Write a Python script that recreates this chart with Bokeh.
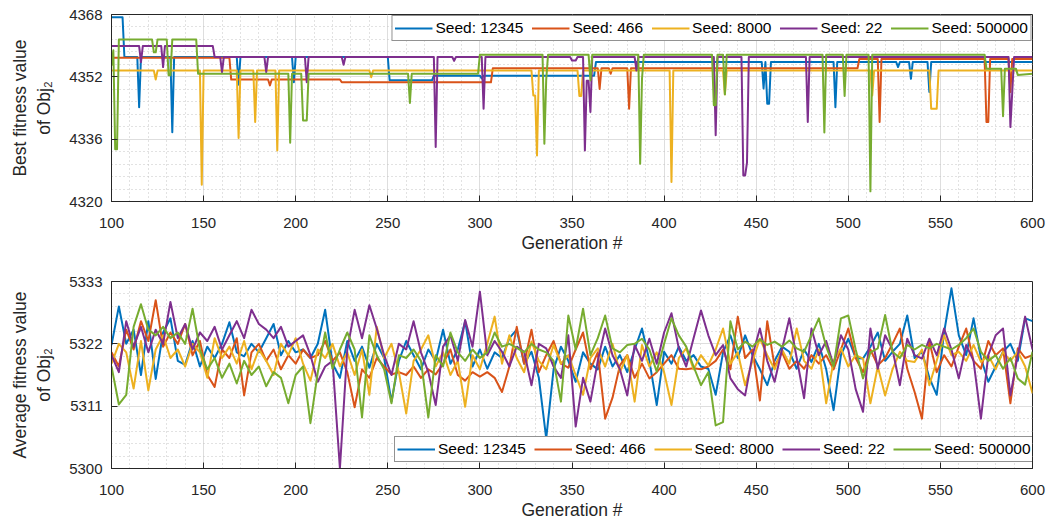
from bokeh.plotting import figure
from bokeh.models import FixedTicker, Range1d, Legend, LegendItem
from bokeh.layouts import column
from bokeh.embed import file_html
from bokeh.resources import INLINE

SEEDS = ["Seed: 12345", "Seed: 466", "Seed: 8000", "Seed: 22", "Seed: 500000"]
COLORS = ["#0072BD", "#D95319", "#EDB120", "#7E2F8E", "#77AC30"]

X_TICKS = [100, 150, 200, 250, 300, 350, 400, 450, 500, 550, 600]
X_MINOR = [g for g in range(100, 601, 10)]
TOP_Y_TICKS = [4320, 4336, 4352, 4368]
BOT_Y_TICKS = [5300, 5311, 5322, 5333]

# ---- Best fitness (vertices of the step-like polylines: generation, value)
BEST_12345 = [(100,4367.3),(106,4367.3),(107,4357.1),(114,4357.1),(115,4344.2),(116,4357.1),
    (132,4357.1),(133,4337.8),(134,4357.1),(168,4357.1),(169,4350.0),(170,4357.1),
    (198,4357.1),(199,4350.6),(200,4357.1),(250,4357.1),(251,4351.1),(274,4351.1),(275,4352.3),
    (300,4352.3),(301,4351.6),(302,4352.3),(362,4352.3),(363,4355.8),
    (453,4355.8),(454,4349.0),(455,4355.8),(456,4345.1),(457,4345.1),(458,4355.8),
    (492,4355.8),(493,4344.2),(494,4355.8),(526,4355.8),(527,4354.5),(528,4355.8),
    (533,4355.8),(534,4351.5),(535,4355.8),(543,4355.8),(544,4348.1),(545,4355.8),(600,4355.8)]
BEST_466 = [(100,4356.9),(164,4356.9),(165,4351.3),(185,4351.3),(186,4349.8),(187,4351.3),
    (224,4351.3),(225,4350.6),(306,4350.6),(307,4354.2),(364,4354.2),(365,4348.9),(366,4354.2),
    (370,4354.2),(371,4352.8),(372,4354.2),(380,4354.2),(381,4343.8),(382,4354.2),
    (505,4354.2),(506,4356.6),(516,4356.6),(517,4340.4),(518,4356.6),
    (574,4356.6),(575,4340.4),(576,4340.4),(577,4356.6),(587,4356.6),(588,4348.1),(589,4356.6),(600,4356.6)]
BEST_8000 = [(100,4353.6),(123,4353.6),(124,4351.3),(125,4353.6),(148,4353.6),(149,4324.3),(150,4353.6),
    (168,4353.6),(169,4336.3),(170,4353.6),(177,4353.6),(178,4340.4),(179,4353.6),
    (189,4353.6),(190,4333.1),(191,4353.6),(240,4353.6),(241,4351.9),(242,4353.6),
    (328,4353.6),(329,4347.2),(330,4347.2),(331,4331.8),(332,4353.6),
    (353,4353.6),(354,4347.1),(355,4347.1),(356,4353.6),(403,4353.6),(404,4325.0),(405,4353.6),
    (432,4353.6),(433,4347.5),(434,4353.6),(512,4353.6),(513,4347.2),(514,4353.6),
    (544,4353.6),(545,4343.8),(548,4343.8),(549,4353.6),(600,4353.6)]
BEST_22 = [(100,4359.9),(115,4359.9),(116,4355.8),(117,4359.9),(127,4359.9),(128,4354.5),(129,4359.9),
    (155,4359.9),(156,4357.1),(159,4357.1),(160,4353.2),(161,4357.1),(183,4357.1),(184,4353.2),(185,4357.1),
    (205,4357.1),(206,4350.6),(207,4357.1),(225,4357.1),(226,4355.1),(227,4357.1),
    (275,4357.1),(276,4334.0),(277,4357.1),(285,4357.1),(286,4356.1),(287,4357.1),
    (301,4357.1),(302,4343.8),(303,4357.1),(349,4357.1),(350,4356.2),(352,4356.2),(353,4357.1),
    (356,4357.1),(357,4333.1),(358,4351.0),(359,4351.0),(360,4343.0),(361,4357.1),
    (384,4357.1),(385,4353.6),(386,4357.1),(427,4357.1),(428,4337.0),(429,4357.1),
    (442,4357.1),(443,4326.7),(444,4326.7),(445,4330.0),(446,4357.1),
    (477,4357.1),(478,4340.4),(479,4357.1),(587,4357.1),(588,4339.1),(589,4348.1),(590,4357.1),(600,4357.1)]
BEST_500000 = [(100,4354.9),(101,4358.8),(102,4333.4),(103,4333.4),(104,4361.6),
    (122,4361.6),(123,4358.3),(124,4358.3),(125,4361.6),(130,4361.6),(131,4352.4),(132,4352.4),(133,4361.6),
    (146,4361.6),(147,4352.8),(196,4352.8),(197,4335.1),(198,4352.8),
    (203,4352.8),(204,4340.8),(206,4340.8),(207,4352.8),(261,4352.8),(262,4345.3),(263,4352.8),
    (299,4352.8),(300,4357.7),(334,4357.7),(335,4334.8),(336,4351.3),(337,4357.7),
    (359,4357.7),(360,4351.1),(361,4357.7),(386,4357.7),(387,4329.7),(388,4351.5),(389,4357.7),
    (426,4357.7),(427,4344.7),(428,4344.7),(429,4357.7),(432,4357.7),(433,4347.5),(434,4357.7),
    (486,4357.7),(487,4337.7),(488,4357.7),(497,4357.7),(498,4347.1),(499,4357.7),
    (511,4357.7),(512,4322.6),(513,4357.7),(574,4357.7),(575,4354.1),
    (583,4354.1),(584,4341.9),(585,4354.1),(591,4354.1),(592,4352.5),(600,4352.8)]

# ---- Average fitness, sampled every 4 generations (100 ... 600)
AVG_GEN = list(range(100, 601, 4))
AVG_12345 = [5321.8,5328.6,5322.0,5324.5,5316.5, 5326.0,5315.8,5324.0,5326.5,5319.0,
    5318.3,5322.5,5318.0,5321.5,5319.5, 5322.0,5325.8,5320.5,5319.8,5322.0,
    5320.5,5323.0,5325.5,5320.0,5322.5, 5320.5,5321.0,5319.5,5322.0,5328.0,
    5318.5,5316.0,5322.5,5319.0,5321.5, 5317.8,5322.0,5319.5,5311.8,5319.0,
    5322.5,5320.0,5317.5,5321.0,5319.0, 5324.5,5318.5,5321.0,5326.0,5318.0,
    5321.0,5317.6,5320.5,5319.5,5323.0, 5324.5,5318.5,5320.6,5316.0,5305.3,
    5317.5,5321.5,5319.0,5315.3,5320.5, 5318.5,5317.5,5321.5,5318.0,5320.0,
    5317.0,5321.0,5324.7,5319.0,5311.2, 5320.6,5318.5,5321.5,5319.0,5320.0,
    5318.0,5317.6,5313.0,5320.5,5323.5, 5319.5,5323.5,5320.0,5317.5,5314.7,
    5319.0,5321.5,5320.6,5317.6,5321.0, 5318.8,5322.0,5317.5,5310.3,5320.0,
    5322.9,5319.5,5319.4,5321.5,5324.0, 5319.0,5320.6,5322.0,5327.0,5319.5,
    5320.6,5316.0,5313.0,5324.0,5331.8, 5323.5,5320.0,5326.5,5319.5,5315.3,
    5318.0,5320.6,5322.0,5319.0,5326.5, 5326.0]
AVG_466 = [5320.5,5318.0,5324.5,5321.0,5326.0, 5322.5,5329.7,5321.5,5324.0,5322.0,
    5325.5,5320.0,5322.5,5316.5,5314.4, 5321.0,5319.5,5323.0,5312.9,5320.5,
    5322.0,5319.0,5321.0,5317.5,5320.0, 5318.5,5321.0,5319.5,5320.0,5322.5,
    5319.0,5320.5,5317.0,5310.8,5317.5, 5316.0,5319.5,5318.0,5316.6,5317.0,
    5316.5,5318.0,5316.0,5317.5,5316.6, 5318.5,5321.0,5316.5,5315.5,5317.0,
    5316.2,5317.0,5316.0,5313.5,5318.0, 5325.0,5318.5,5324.5,5317.0,5320.0,
    5322.5,5318.5,5317.8,5321.0,5324.0, 5317.5,5320.5,5308.8,5312.5,5318.2,
    5320.0,5316.0,5318.5,5315.9,5317.0, 5318.5,5320.0,5317.6,5317.5,5317.7,
    5317.5,5318.0,5319.0,5321.0,5317.5, 5326.8,5319.5,5321.0,5312.0,5326.0,
    5318.0,5320.5,5317.6,5319.0,5317.6, 5320.0,5318.5,5320.0,5317.5,5321.0,
    5324.7,5319.5,5317.0,5321.0,5318.2, 5319.5,5322.0,5324.7,5317.6,5313.5,
    5308.8,5322.4,5317.0,5320.0,5318.0, 5321.5,5324.7,5319.0,5317.6,5322.5,
    5320.0,5321.2,5311.5,5321.2,5319.5, 5320.0]
AVG_8000 = [5318.5,5322.0,5320.5,5314.1,5322.5, 5313.8,5321.0,5323.5,5319.5,5321.0,
    5318.0,5322.0,5320.5,5316.0,5323.0, 5319.5,5321.5,5318.5,5322.5,5317.5,
    5321.0,5319.0,5316.5,5322.0,5320.0, 5323.0,5318.5,5315.5,5321.0,5319.5,
    5322.0,5318.0,5320.5,5316.5,5321.0, 5313.0,5325.0,5319.5,5322.0,5317.0,
    5309.7,5319.0,5321.0,5323.5,5318.0, 5320.5,5316.5,5319.0,5310.9,5320.0,
    5317.5,5322.0,5326.8,5318.5,5323.5, 5319.5,5317.0,5322.4,5319.0,5317.5,
    5321.8,5318.5,5320.0,5316.5,5313.0, 5319.5,5321.2,5318.0,5322.0,5317.0,
    5320.0,5311.8,5321.8,5318.0,5320.5, 5317.0,5311.2,5319.5,5321.2,5317.5,
    5320.0,5318.2,5321.0,5324.7,5318.5, 5320.5,5314.7,5319.0,5322.9,5320.0,
    5317.5,5321.0,5318.5,5324.7,5319.0, 5317.6,5321.0,5311.5,5319.0,5321.2,
    5318.0,5320.0,5319.4,5311.5,5318.0, 5312.9,5317.5,5320.6,5319.0,5318.8,
    5321.0,5314.7,5319.0,5323.5,5320.0, 5320.6,5319.0,5321.8,5318.8,5320.0,
    5317.5,5320.6,5319.0,5320.6,5318.0, 5313.3]
AVG_22 = [5320.0,5317.0,5326.0,5321.5,5325.0, 5320.5,5324.5,5322.0,5329.4,5323.0,
    5325.5,5321.0,5324.0,5322.5,5325.0, 5321.0,5323.5,5326.0,5323.0,5328.0,
    5325.5,5324.5,5323.0,5325.0,5321.5, 5322.5,5323.5,5320.0,5315.3,5318.0,
    5319.0,5300.0,5321.0,5328.0,5323.0, 5328.8,5324.7,5320.0,5316.5,5322.0,
    5321.0,5326.0,5320.5,5317.0,5311.2, 5321.5,5323.5,5319.0,5326.2,5321.5,
    5331.2,5320.0,5322.5,5320.6,5318.0, 5321.5,5320.6,5314.7,5322.0,5321.2,
    5318.0,5316.0,5323.5,5307.4,5316.0, 5311.8,5319.0,5324.7,5320.0,5317.5,
    5312.9,5321.8,5319.0,5322.9,5318.5, 5324.0,5327.4,5321.2,5318.0,5323.0,
    5327.9,5323.5,5320.0,5321.8,5315.9, 5314.0,5312.9,5320.0,5324.7,5319.0,
    5315.3,5321.0,5326.5,5319.5,5312.4, 5324.7,5320.0,5322.5,5318.2,5323.5,
    5321.0,5314.0,5310.0,5324.7,5317.6, 5323.5,5321.0,5314.7,5322.9,5320.0,
    5319.4,5322.9,5320.0,5324.7,5321.0, 5315.9,5321.8,5319.0,5308.8,5320.0,
    5323.5,5324.7,5312.9,5320.0,5326.8, 5321.0]
AVG_500000 = [5318.0,5311.3,5313.0,5325.0,5329.0, 5324.5,5323.5,5325.0,5323.0,5324.0,
    5322.0,5328.2,5321.0,5317.5,5319.5, 5316.0,5318.5,5315.0,5319.0,5316.5,
    5318.0,5314.5,5317.0,5316.0,5311.5, 5316.5,5318.0,5308.0,5317.0,5324.0,
    5317.6,5321.0,5324.0,5321.0,5309.0, 5323.5,5320.0,5317.5,5311.5,5320.0,
    5319.5,5321.0,5319.0,5309.0,5320.0, 5318.0,5324.0,5320.5,5319.0,5321.0,
    5319.5,5320.5,5324.0,5321.5,5322.0, 5321.3,5320.5,5322.0,5321.0,5320.5,
    5319.0,5311.8,5327.0,5321.0,5328.2, 5320.0,5323.0,5327.0,5321.2,5320.5,
    5321.8,5322.0,5322.9,5321.0,5317.1, 5322.0,5326.5,5323.5,5321.5,5318.0,
    5314.7,5317.0,5307.6,5308.2,5326.0, 5321.0,5322.4,5321.5,5322.8,5321.8,
    5322.4,5321.5,5322.6,5321.2,5320.6, 5323.5,5326.5,5321.5,5318.0,5326.5,
    5327.0,5321.0,5315.9,5320.5,5321.2, 5327.1,5320.6,5319.5,5321.8,5321.0,
    5321.8,5321.2,5322.0,5321.5,5321.0, 5321.8,5323.0,5324.7,5320.6,5319.0,
    5320.0,5317.6,5319.5,5315.9,5314.8, 5320.6]

AX = "#262626"
FONT = "Liberation Sans"


def make_fig(border_top, border_bottom, y_lo, y_hi, yticks, ylabel):
    p = figure(frame_width=921, frame_height=187,
               output_backend="svg", toolbar_location=None,
               x_range=Range1d(100, 600), y_range=Range1d(y_lo, y_hi),
               min_border_left=111, min_border_right=16,
               min_border_top=border_top, min_border_bottom=border_bottom)
    p.outline_line_color = AX
    p.outline_line_width = 1
    step = (yticks[1] - yticks[0]) / 5.0
    yminor = [yticks[0] + step * k for k in range(int(round((yticks[-1] - yticks[0]) / step)) + 1)]
    p.xaxis.ticker = FixedTicker(ticks=X_TICKS, minor_ticks=X_MINOR)
    p.yaxis.ticker = FixedTicker(ticks=yticks, minor_ticks=yminor)
    for ax in (p.xaxis[0], p.yaxis[0]):
        ax.axis_line_color = AX
        ax.major_tick_line_color = AX
        ax.major_tick_in = 6
        ax.major_tick_out = 0
        ax.minor_tick_in = 0
        ax.minor_tick_out = 0
        ax.major_label_text_font = FONT
        ax.major_label_text_font_size = "15px"
        ax.major_label_text_color = AX
        ax.axis_label_text_font = FONT
        ax.axis_label_text_font_size = "17.5px"
        ax.axis_label_text_font_style = "normal"
        ax.axis_label_text_color = AX
    p.xaxis.major_label_standoff = 16
    p.xaxis.axis_label_standoff = 2
    p.yaxis.major_label_standoff = 9
    p.yaxis.axis_label_standoff = 12
    p.xaxis.axis_label = "Generation #"
    p.yaxis.axis_label = ylabel
    for g in (p.xgrid[0], p.ygrid[0]):
        g.grid_line_color = "#dedede"
        g.grid_line_width = 1
        g.minor_grid_line_color = "#c4c4c4"
        g.minor_grid_line_dash = "1 3"
        g.minor_grid_line_width = 1
    return p


def add_legend(p, renderers, location, margin):
    items = [LegendItem(label=s, renderers=[r]) for s, r in zip(SEEDS, renderers)]
    leg = Legend(items=items, orientation="horizontal", location=location, margin=margin,
                 padding=2, spacing=8, glyph_width=38, glyph_height=20, label_height=20,
                 label_standoff=3, label_text_font=FONT, label_text_font_size="15.5px",
                 label_text_color="#000000", border_line_color=AX, border_line_width=1,
                 background_fill_color="white", background_fill_alpha=1.0)
    p.add_layout(leg)


p1 = make_fig(14, 66, 4320, 4368, TOP_Y_TICKS, "Best fitness value\nof Obj\u2082")
r1 = []
for series, col in zip([BEST_12345, BEST_466, BEST_8000, BEST_22, BEST_500000], COLORS):
    xs = [a for a, b in series]
    ys = [b for a, b in series]
    r1.append(p1.line(xs, ys, line_color=col, line_width=2, line_join="round"))
add_legend(p1, r1, "top_right", 1)

p2 = make_fig(14, 54, 5300, 5333, BOT_Y_TICKS, "Average fitness value\nof Obj\u2082")
r2 = []
for series, col in zip([AVG_12345, AVG_466, AVG_8000, AVG_22, AVG_500000], COLORS):
    r2.append(p2.line(AVG_GEN, series, line_color=col, line_width=2, line_join="round"))
add_legend(p2, r2, (283, 6), 0)

layout = column(p1, p2, spacing=0)
open("out.html", "w").write(file_html(layout, INLINE))
